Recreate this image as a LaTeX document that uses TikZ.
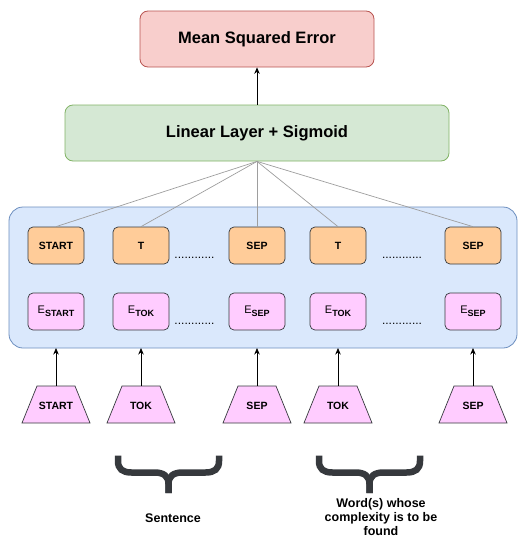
\documentclass[tikz,border=0pt]{standalone}
\usepackage{fontspec}
\setmainfont{Liberation Sans}
\usetikzlibrary{arrows.meta}
\definecolor{mseF}{HTML}{F8CECC}
\definecolor{mseD}{HTML}{B85450}
\definecolor{linF}{HTML}{D5E8D4}
\definecolor{linD}{HTML}{82B366}
\definecolor{bluF}{HTML}{DAE8FC}
\definecolor{bluD}{HTML}{6C8EBF}
\definecolor{oraF}{HTML}{FFCC99}
\definecolor{pnkF}{HTML}{FFCCFF}
\definecolor{darkD}{HTML}{36393D}
\definecolor{lineG}{HTML}{9E9E9E}
\begin{document}
\begin{tikzpicture}[x=1pt,y=-1pt,
  bigbox/.style={draw, line width=0.8pt, rounded corners=8pt, inner sep=0pt, font=\fontsize{16.5}{18}\selectfont\bfseries},
  tokbox/.style={draw=darkD, line width=0.7pt, rounded corners=5pt, minimum width=56pt, minimum height=37pt, inner sep=0pt},
  orabox/.style={tokbox, fill=oraF, font=\fontsize{10.5}{12}\selectfont\bfseries},
  pnkbox/.style={tokbox, fill=pnkF, font=\fontsize{11}{12}\selectfont},
  trapz/.style={draw=darkD, fill=pnkF, line width=0.7pt},
  traplab/.style={font=\fontsize{10.5}{12}\selectfont\bfseries, inner sep=0pt},
  fan/.style={draw=lineG, line width=0.7pt},
  uparrow/.style={draw=black, line width=0.7pt, -{Stealth[length=6.5pt,width=5.5pt]}},
  dots/.style={font=\fontsize{12}{12}\selectfont, inner sep=0pt, anchor=base},
  brace/.style={draw=darkD, line width=6.5pt},
  caption/.style={font=\fontsize{12.5}{14}\selectfont\bfseries, align=center, inner sep=0pt}
]
\useasboundingbox (0,0) rectangle (518,538);

% top boxes
\node[bigbox, draw=mseD, fill=mseF, minimum width=234pt, minimum height=56pt] (mse) at (257,39) {Mean Squared Error};
\node[bigbox, draw=linD, fill=linF, minimum width=384pt, minimum height=56pt] (lin) at (257,133) {Linear Layer + Sigmoid};

% encoder container
\node[draw=bluD, fill=bluF, line width=0.8pt, rounded corners=14pt, minimum width=508pt, minimum height=141pt, inner sep=0pt] (enc) at (263,277.5) {};

% orange row
\node[orabox] (o1) at (56,245.5) {START};
\node[orabox] (o2) at (141,245.5) {T};
\node[orabox] (o3) at (257,245.5) {SEP};
\node[orabox] (o4) at (338,245.5) {T};
\node[orabox] (o5) at (473,245.5) {SEP};

% pink row
\node[pnkbox] (e1) at (56,311.5) {E{\fontsize{9}{10}\selectfont\bfseries\raisebox{-2.5pt}{START}}};
\node[pnkbox] (e2) at (141,311.5) {E{\fontsize{9}{10}\selectfont\bfseries\raisebox{-2.5pt}{TOK}}};
\node[pnkbox] (e3) at (257,311.5) {E{\fontsize{9}{10}\selectfont\bfseries\raisebox{-2.5pt}{SEP}}};
\node[pnkbox] (e4) at (338,311.5) {E{\fontsize{9}{10}\selectfont\bfseries\raisebox{-2.5pt}{TOK}}};
\node[pnkbox] (e5) at (473,311.5) {E{\fontsize{9}{10}\selectfont\bfseries\raisebox{-2.5pt}{SEP}}};

% dots
\node[dots] (d1) at (194.5,258) {............};
\node[dots] (d2) at (402,258) {............};
\node[dots] (d3) at (194.5,324) {............};
\node[dots] (d4) at (402,324) {............};

% fan-out lines
\foreach \o in {o1,o2,o3,o4,o5} \draw[fan] (lin.south) -- (\o.north);

% MSE arrow
\draw[uparrow] (lin.north) -- (mse.south);

% trapezoids
\foreach \n/\x/\t in {t1/56/START, t2/141/TOK, t3/257/SEP, t4/338/TOK, t5/473/SEP}{
  \draw[trapz] (\x-34,423) -- (\x-19,386) -- (\x+19,386) -- (\x+34,423) -- cycle;
  \coordinate (\n top) at (\x,386);
  \node[traplab] (\n) at (\x,406) {\t};
}
\coordinate (a1) at (56,348);
\coordinate (a2) at (141,348);
\coordinate (a3) at (257,348);
\coordinate (a4) at (338,348);
\coordinate (a5) at (473,348);
\foreach \i in {1,...,5} \draw[uparrow] (t\i top) -- (a\i);

% braces
\foreach \c/\n in {168.5/b1, 369.5/b2}{
  \coordinate (\n) at (\c,493);
  \draw[brace] (\c-50.5,455.5) -- (\c-50.5,461) .. controls (\c-50.5,469) and (\c-46,472.5) .. (\c-37,472.5)
     -- (\c-14,472.5) .. controls (\c-5,472.5) and (\c,476) .. (\c,484) -- (\n);
  \draw[brace] (\c+50.5,455.5) -- (\c+50.5,461) .. controls (\c+50.5,469) and (\c+46,472.5) .. (\c+37,472.5)
     -- (\c+14,472.5) .. controls (\c+5,472.5) and (\c,476) .. (\c,484) -- (\n);
}

% captions
\node[caption] (cap1) at (173,518) {Sentence};
\node[caption] (cap2) at (381,517) {Word(s) whose\\complexity is to be\\found};
\end{tikzpicture}
\end{document}
